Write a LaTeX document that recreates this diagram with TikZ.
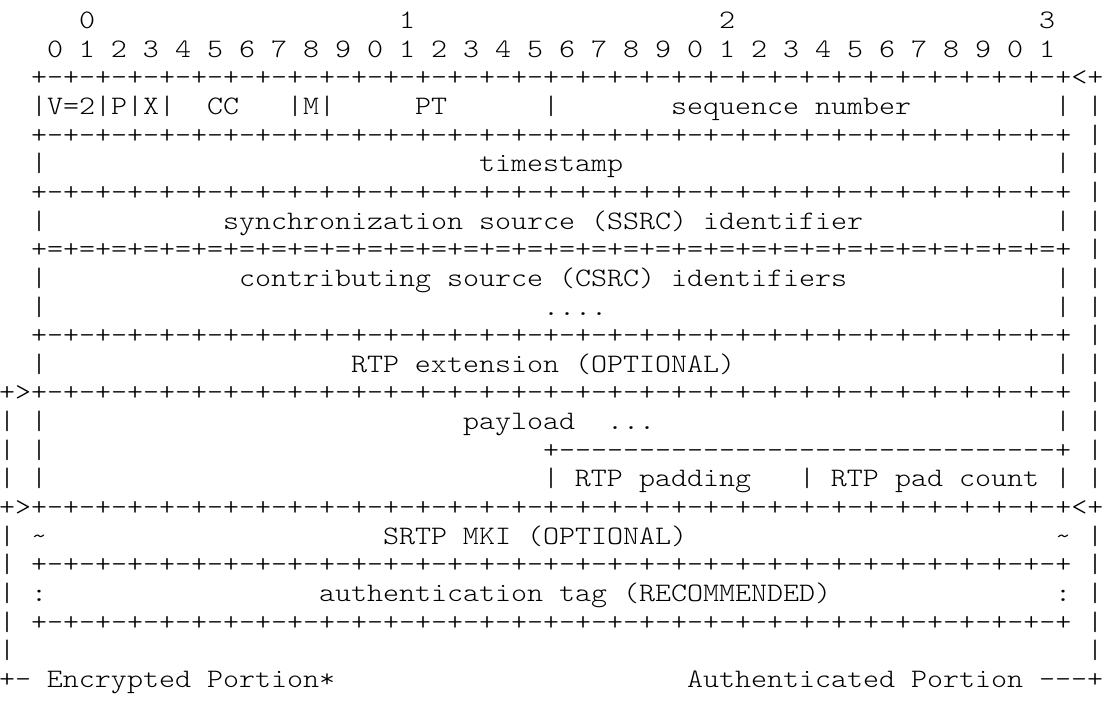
\documentclass[tikz,border=0pt]{standalone}
\usepackage{fontspec}
\newfontfamily\asciimono{lmmonolt10-regular}[Extension=.otf, FakeStretch=1.143]
\tikzset{
  txt/.style={anchor=base west, inner sep=0pt, outer sep=0pt,
    font={\asciimono\fontsize{26.67}{28}\selectfont}, text=black}
}
% #1 name, #2 row, #3 column, #4 text
\newcommand\seg[4]{\node[txt] (#1) at ({#3*16-1},{-28.5-28.65*#2}) {#4};}
\newcommand\dashP{-+-+-+-+-+-+-+-+}
\newcommand\eqP{=+=+=+=+=+=+=+=+}
\newcommand\fullrule{+\dashP\dashP\dashP\dashP}
\newcommand\eqrule{+\eqP\eqP\eqP\eqP}
\begin{document}
\begin{tikzpicture}[x=1pt,y=1pt]
\useasboundingbox[fill=white] (0,0) rectangle (1107,-704);
% row 0 and 1: bit numbering
\seg{t0}{0}{5}{0}
\seg{t1}{0}{25}{1}
\seg{t2}{0}{45}{2}
\seg{t3}{0}{65}{3}
\seg{bits}{1}{3}{0 1 2 3 4 5 6 7 8 9 0 1 2 3 4 5 6 7 8 9 0 1 2 3 4 5 6 7 8 9 0 1}
% row 2
\seg{r2a}{2}{2}{\fullrule<+}
% row 3
\seg{r3a}{3}{2}{|V=2|P|X|}
\seg{r3b}{3}{13}{CC}
\seg{r3c}{3}{18}{|M|}
\seg{r3d}{3}{26}{PT}
\seg{r3e}{3}{34}{|}
\seg{r3f}{3}{42}{sequence number}
\seg{r3g}{3}{66}{|}
\seg{r3h}{3}{68}{|}
% row 4
\seg{r4a}{4}{2}{\fullrule}
\seg{r4b}{4}{68}{|}
% row 5
\seg{r5a}{5}{2}{|}
\seg{r5b}{5}{30}{timestamp}
\seg{r5c}{5}{66}{|}
\seg{r5d}{5}{68}{|}
% row 6
\seg{r6a}{6}{2}{\fullrule}
\seg{r6b}{6}{68}{|}
% row 7
\seg{r7a}{7}{2}{|}
\seg{r7b}{7}{14}{synchronization source (SSRC) identifier}
\seg{r7c}{7}{66}{|}
\seg{r7d}{7}{68}{|}
% row 8
\seg{r8a}{8}{2}{\eqrule}
\seg{r8b}{8}{68}{|}
% row 9
\seg{r9a}{9}{2}{|}
\seg{r9b}{9}{15}{contributing source (CSRC) identifiers}
\seg{r9c}{9}{66}{|}
\seg{r9d}{9}{68}{|}
% row 10
\seg{r10a}{10}{2}{|}
\seg{r10b}{10}{34}{....}
\seg{r10c}{10}{66}{|}
\seg{r10d}{10}{68}{|}
% row 11
\seg{r11a}{11}{2}{\fullrule}
\seg{r11b}{11}{68}{|}
% row 12
\seg{r12a}{12}{2}{|}
\seg{r12b}{12}{22}{RTP extension (OPTIONAL)}
\seg{r12c}{12}{66}{|}
\seg{r12d}{12}{68}{|}
% row 13
\seg{r13a}{13}{0}{+>\fullrule}
\seg{r13b}{13}{68}{|}
% row 14
\seg{r14a}{14}{0}{|}
\seg{r14b}{14}{2}{|}
\seg{r14c}{14}{29}{payload}
\seg{r14d}{14}{38}{...}
\seg{r14e}{14}{66}{|}
\seg{r14f}{14}{68}{|}
% row 15
\seg{r15a}{15}{0}{|}
\seg{r15b}{15}{2}{|}
\seg{r15c}{15}{34}{+-------------------------------+}
\seg{r15d}{15}{68}{|}
% row 16
\seg{r16a}{16}{0}{|}
\seg{r16b}{16}{2}{|}
\seg{r16c}{16}{34}{| RTP padding}
\seg{r16d}{16}{50}{| RTP pad count |}
\seg{r16e}{16}{68}{|}
% row 17
\seg{r17a}{17}{0}{+>\fullrule<+}
% row 18
\seg{r18a}{18}{0}{|}
\seg{r18b}{18}{2}{\textasciitilde}
\seg{r18c}{18}{24}{SRTP MKI (OPTIONAL)}
\seg{r18d}{18}{66}{\textasciitilde}
\seg{r18e}{18}{68}{|}
% row 19
\seg{r19a}{19}{0}{|}
\seg{r19b}{19}{2}{\fullrule}
\seg{r19c}{19}{68}{|}
% row 20
\seg{r20a}{20}{0}{|}
\seg{r20b}{20}{2}{:}
\seg{r20c}{20}{20}{authentication tag (RECOMMENDED)}
\seg{r20d}{20}{66}{:}
\seg{r20e}{20}{68}{|}
% row 21
\seg{r21a}{21}{0}{|}
\seg{r21b}{21}{2}{\fullrule}
\seg{r21c}{21}{68}{|}
% row 22
\seg{r22a}{22}{0}{|}
\seg{r22b}{22}{68}{|}
% row 23
\seg{r23a}{23}{0}{+- Encrypted Portion*}
\seg{r23b}{23}{43}{Authenticated Portion ---+}
\end{tikzpicture}
\end{document}
